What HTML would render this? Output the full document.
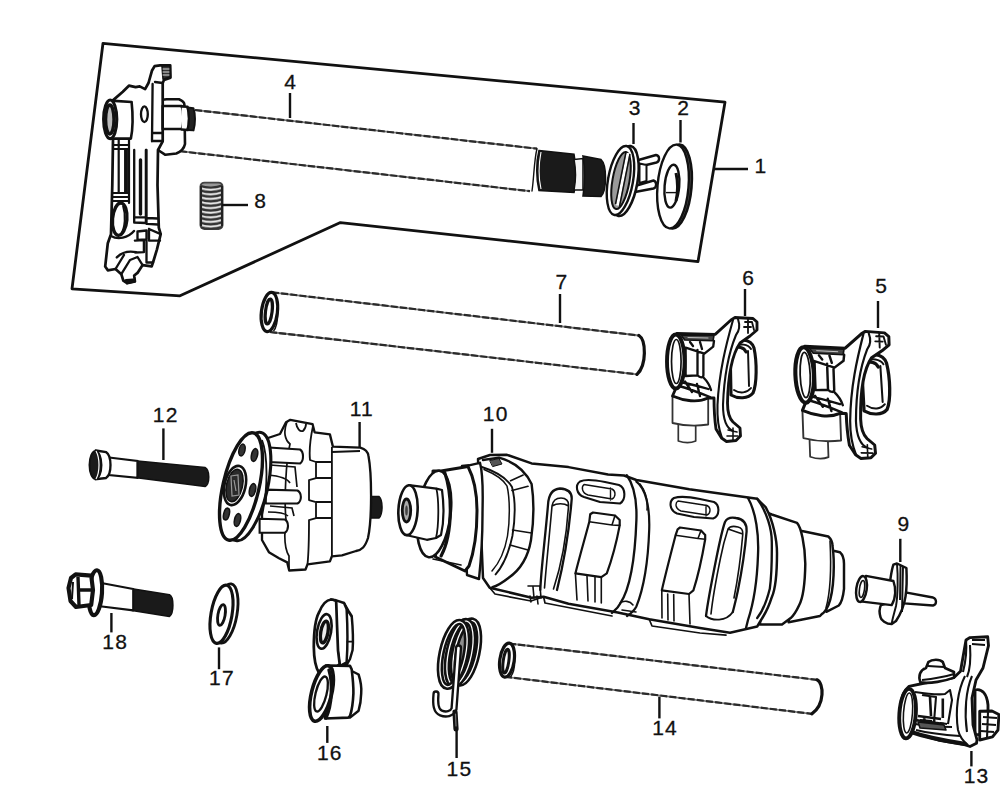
<!DOCTYPE html>
<html><head><meta charset="utf-8"><title>Gear shift parts</title>
<style>
html,body{margin:0;padding:0;background:#fff;}
body{width:1000px;height:812px;overflow:hidden;}
svg{display:block;}
text{font-family:"Liberation Sans",sans-serif;font-size:21px;letter-spacing:1.2px;fill:#111;text-anchor:middle;stroke:#111;stroke-width:0.3px;}
.o{fill:#fff;stroke:#111;stroke-linejoin:round;stroke-linecap:round;}
.l{fill:none;stroke:#111;stroke-linecap:round;stroke-linejoin:round;}
.t{fill:none;stroke:#111;stroke-linecap:round;}
.ld{fill:none;stroke:#111;stroke-width:2.4;}
.d{fill:#1a1a1a;stroke:#111;}
</style></head>
<body>
<svg width="1000" height="812" viewBox="0 0 1000 812">
<rect width="1000" height="812" fill="#fff"/>
<!-- frame box -->
<polygon points="103,43.3 725,102.2 698,261.6 340.4,222.6 180,295.8 72,288.8" fill="none" stroke="#111" stroke-width="2.8" stroke-linejoin="round"/>

<!-- ===== item 4: shaft ===== -->
<g id="shaft">
<path fill="#fff" d="M195,110 L537,148.7 L537,190.7 L180,151.2 Z"/>
<path d="M195,110 L537,148.7" fill="none" stroke="#777" stroke-width="1.8"/>
<path d="M195,110 L537,148.7" fill="none" stroke="#2a2a2a" stroke-dasharray="7 2.2" stroke-width="2.2"/>
<path d="M180,151.2 L530,191.2" fill="none" stroke="#777" stroke-width="1.8"/>
<path d="M180,151.2 L530,191.2" fill="none" stroke="#2a2a2a" stroke-dasharray="7 2.2" stroke-width="2.2"/>
<path class="l" stroke-width="1.4" d="M537,148.7 C534,160 534,178 532,191"/>
<!-- spline 1 -->
<path class="d" stroke-width="1.56" d="M539,150.5 L574,154.3 C577,170 577,182 574,192.5 L539,190.5 C536,178 536,162 539,150.5 Z"/>
<path d="M541,152 C538.5,165 538.5,178 541,189" fill="none" stroke="#fff" stroke-width="1.1"/>
<!-- collar -->
<path fill="#f4f4f4" stroke="#111" stroke-width="1.56" d="M574,159.5 L583,158.5 L583,190 L574,190 C576,180 576,170 574,159.5Z"/>
<!-- spline 2 -->
<path class="d" stroke-width="1.56" d="M583,156 L601,159.5 C607,165 607,190 601,196.5 L583,196 C585,183 585,168 583,156 Z"/>
</g>

<!-- ===== shift arm ===== -->
<g id="arm" stroke-linejoin="round" stroke-linecap="round">
<!-- back disc -->
<path fill="#fff" stroke="#111" stroke-width="2.60" d="M160,100 L166.8,99.3 L179,99.3 C183,101 184.4,103 184.4,104.7 L185,144 C184,149 180,152 176.3,153.5 L165.4,154.8 L158,150 Z"/>
<!-- silhouette -->
<path fill="#fff" stroke="#111" stroke-width="2.73" d="M112.6,100.6 L122.8,91.8 L128.9,85.7 L135.6,87.1 L139.7,86.4 L145.1,89.1 L148.5,83 L151.9,70.8 L154.6,66.1 L160,65.4 L170.2,65.4 L170.5,77.6 L164,80 L162.7,83 L162.7,141.3 L158,150 L157.5,185 L158.8,227.6 L160.7,234.1 L156.9,249.6 L153,262.5 L151.7,266.4 L142.6,265.1 L137.5,272.9 L134.2,275.5 L134.9,281.3 L127.1,283.2 L123.3,280.6 L121.3,274.2 L115.5,269 L107.8,270.3 L105.2,266.4 L107.8,243.2 L111,234.1 L112.3,185 L113,140 L112.6,138.6 Z"/>
<!-- tab hatch -->
<path fill="#333" stroke="#111" stroke-width="1.56" d="M162,66 L170,66 L170,77 L163,79 Z"/>
<path fill="none" stroke="#ddd" stroke-width="1" d="M163,69 L169,69 M163,72 L169,72 M163,75 L169,75"/>
<!-- left boss -->
<path fill="#fff" stroke="#111" stroke-width="2.60" d="M110.5,100.6 L131.6,102 C133,115 133,128 130.9,138.6 L111,138.6 Z"/>
<ellipse cx="110.2" cy="119.3" rx="6.6" ry="19.3" fill="#fff" stroke="#111" stroke-width="3.12"/>
<ellipse cx="109.8" cy="119.5" rx="4.2" ry="14.5" fill="#bbb" stroke="#111" stroke-width="3.38"/>
<!-- plate hole -->
<ellipse cx="144.4" cy="114.2" rx="3.4" ry="7.8" fill="#fff" stroke="#111" stroke-width="2.34"/>
<!-- rib -->
<path fill="none" stroke="#111" stroke-width="2.34" d="M152.6,84 L152,141.3 M155,82 L162.7,83 M152.3,133 L162.7,133 M152.3,141 L162.7,141"/>
<!-- right boss -->
<path fill="#fff" stroke="#111" stroke-width="2.60" d="M162.7,106 L181.7,106 C184,112 184,124 181.7,129 L162.7,129 Z"/>
<path fill="#fff" stroke="#111" stroke-width="2.60" d="M181.7,106.5 L187.5,106.8 C189.5,113 189.5,124 187.5,130 L181.7,129.5"/>
<path fill="#222" stroke="#111" stroke-width="1.95" d="M187.5,107.4 L193.5,108.2 C195.5,114 195.5,124 193.5,130.4 L187.5,130 C189.5,124 189.5,113 187.5,107.4 Z"/>
<!-- left rail -->
<path fill="none" stroke="#111" stroke-width="2.21" d="M129,139 L129,203 M118.7,140 L118.7,193"/>
<path fill="none" stroke="#111" stroke-width="1.95" d="M113,145 L129,145 M113,149 L129,149 M113,193 L129,193 M113,197 L129,197 M113,201 L129,201"/>
<path fill="none" stroke="#111" stroke-width="3.90" d="M126,150 L126,192"/>
<ellipse cx="119.7" cy="219.2" rx="7.2" ry="16.2" transform="rotate(5 119.7 219.2)" fill="#fff" stroke="#111" stroke-width="3.38"/>
<path fill="none" stroke="#111" stroke-width="1.82" d="M123,206 C126,215 125,228 121,234"/>
<!-- middle & right rails -->
<path fill="none" stroke="#111" stroke-width="2.34" d="M134.2,150 L134.2,222.5 M145.9,150 L145.9,222.5 M146.5,150 L146.5,223.8 M134.2,217.3 L145.9,217.3 M134.2,222.5 L145.9,223 M147,218 L157.5,218.5 M147,223.8 L157.8,224.5"/>
<path fill="none" stroke="#111" stroke-width="3.38" d="M140.5,160 L140.5,214"/>
<!-- foot details -->
<path fill="none" stroke="#111" stroke-width="2.34" d="M137.5,231.5 L146.5,230.5 L146.5,239.3 L137.5,240 Z M134.9,240.6 L143.9,240 L143.9,252.2 L134.9,252.5 M149,229 L160.7,234.1 M149,229 L149,240.6 L160,240.6 M146.5,240.6 L146.5,262.5 L153,262.5 M111,236 C118,240 128,238 134,231 M116.8,257.4 C122,252 130,251 136.2,252.2 M115.5,269 L124,255 M121.3,274.2 L130,260 L137.5,257 L142.6,265.1 M127.1,283.2 L134.9,281.3"/>
<path fill="none" stroke="#111" stroke-width="4.16" d="M126,281 L133,280.5"/>
</g>

<!-- ===== spring 8 ===== -->
<g id="spring8">
<rect x="200.5" y="182.6" width="22" height="46.5" rx="4" fill="#999" stroke="#444" stroke-width="1.95"/>
<path fill="none" stroke="#333" stroke-width="1.95" d="M201,186.0 C206,188.0 216,188.0 222,185.5 M201,190.6 C206,192.6 216,192.6 222,190.1 M201,195.2 C206,197.2 216,197.2 222,194.7 M201,199.8 C206,201.8 216,201.8 222,199.3 M201,204.4 C206,206.4 216,206.4 222,203.9 M201,209.0 C206,211.0 216,211.0 222,208.5 M201,213.6 C206,215.6 216,215.6 222,213.1 M201,218.2 C206,220.2 216,220.2 222,217.7 M201,222.8 C206,224.8 216,224.8 222,222.3 M201,227.4 C206,229.4 216,229.4 222,226.9"/>
<path fill="none" stroke="#e6e6e6" stroke-width="1.3" d="M202,188.4 C207,190.0 215,190.0 221,188.0 M202,193.0 C207,194.6 215,194.6 221,192.6 M202,197.6 C207,199.2 215,199.2 221,197.2 M202,202.2 C207,203.8 215,203.8 221,201.8 M202,206.8 C207,208.4 215,208.4 221,206.4 M202,211.4 C207,213.0 215,213.0 221,211.0 M202,216.0 C207,217.6 215,217.6 221,215.6 M202,220.6 C207,222.2 215,222.2 221,220.2 M202,225.2 C207,226.8 215,226.8 221,224.8"/>
<path fill="none" stroke="#222" stroke-width="2.08" d="M201,186 L201,226 M222,186 L222,226"/>
</g>

<!-- ===== circlip 3 ===== -->
<g id="clip3" stroke-linejoin="round">
<path fill="#fff" stroke="#111" stroke-width="2.4" d="M635,161 L656,155 C660,155.5 660,161.5 656.5,162.5 L636,167.5 Z M635,186 L653.5,180.5 C657,181.5 657,187.5 653.5,188.5 L635,192 Z"/>
<path fill="#fff" stroke="#111" stroke-width="2" d="M639.5,163.5 L646.5,165 L646.5,181 L639.5,183 Z"/>
<ellipse cx="624.5" cy="181" rx="13" ry="35.5" transform="rotate(10 624.5 181)" fill="#fff" stroke="#111" stroke-width="2.6"/>
<ellipse cx="620.5" cy="180.5" rx="12.5" ry="35" transform="rotate(10 620.5 180.5)" fill="#fff" stroke="#111" stroke-width="2.4"/>
<ellipse cx="621" cy="180.5" rx="8.5" ry="29" transform="rotate(10 621 180.5)" fill="#9a9a9a" stroke="#111" stroke-width="2"/>
<path fill="none" stroke="#fff" stroke-width="3" d="M628,153 L617.5,205.5"/>
<path fill="none" stroke="#111" stroke-width="1.5" d="M626,152 L615.5,204 M630,154 L619.5,206.5"/>
</g>

<!-- ===== washer 2 ===== -->
<g id="washer2">
<ellipse cx="676" cy="186.5" rx="15.5" ry="42" transform="rotate(5 676 186.5)" fill="#555" stroke="#111" stroke-width="2.6"/>
<ellipse cx="673" cy="186.5" rx="15.5" ry="42" transform="rotate(5 673 186.5)" fill="#fff" stroke="#111" stroke-width="2.4"/>
<ellipse cx="671.9" cy="186.2" rx="7.3" ry="21.5" transform="rotate(5 671.9 186.2)" fill="#fff" stroke="#111" stroke-width="2.4"/>
<path fill="none" stroke="#111" stroke-width="3" d="M676,173 C678,182 678,192 676,201"/>
<path fill="none" stroke="#111" stroke-width="1.4" d="M666,192.6 L677.5,192.6"/>
</g>
<!-- ===== rod 7 ===== -->
<g id="rod7">
<path fill="#fff" d="M270,292 L639,335.5 C646,340 647,365 637,374.3 L270,332 Z"/>
<path d="M272,292.3 L639,335.5" fill="none" stroke="#777" stroke-width="1.8"/>
<path d="M272,292.3 L639,335.5" fill="none" stroke="#2a2a2a" stroke-dasharray="7 2.2" stroke-width="2.2"/>
<path d="M270,332 L637,374.3" fill="none" stroke="#777" stroke-width="1.8"/>
<path d="M270,332 L637,374.3" fill="none" stroke="#2a2a2a" stroke-dasharray="7 2.2" stroke-width="2.2"/>
<path fill="none" stroke="#111" stroke-width="3.2" stroke-linecap="round" d="M639,335.5 C646,340 647,365 637,374.3"/>
<ellipse cx="269.4" cy="312" rx="8" ry="19.8" transform="rotate(7 269.4 312)" fill="#fff" stroke="#111" stroke-width="3.2"/>
<ellipse cx="268.8" cy="311.5" rx="3.3" ry="12.5" transform="rotate(7 268.8 311.5)" fill="#fff" stroke="#111" stroke-width="3.2"/>
<path fill="none" stroke="#111" stroke-width="1.5" d="M274.5,293.5 C279,300 279,325 273.5,331"/>
</g>
<!-- ===== fork 6 ===== -->
<g id="fork6" stroke-linejoin="round" stroke-linecap="round">
<!-- right ring behind arm -->
<path fill="#fff" stroke="#111" stroke-width="3.12" d="M730,344 C737,338 751,338 754,348 C757,362 757,384 753,393 C748,399 738,399 731,395 Z"/>
<path fill="none" stroke="#111" stroke-width="1.95" d="M734,347 C740,343 748,344 751,349 M734,390 C740,394 747,393 751,388 M748,351 L749,386"/>
<path fill="none" stroke="#111" stroke-width="3.12" d="M733,349 C738,346 744,347 746,352"/>
<!-- boss + pin -->
<path fill="#fff" stroke="#333" stroke-width="1.7" d="M678.3,424 L678.3,441 C684,443 691,443 695.7,441 L695.7,424 Z"/>
<path fill="#fff" stroke="#333" stroke-width="1.8" d="M672.5,396 L672.5,423 C685,426 698,426 708.2,424.5 L708.2,398 C698,403 684,401 672.5,396 Z"/>
<!-- ring body + arm silhouette -->
<path fill="#fff" stroke="#111" stroke-width="2.86" d="M677,333.5 L715.2,334.4 L731,320 L735,317.5 L753,318.5 L757,322 L757,330 L750,336 L740,343 C731,356 728,380 727.5,403 C727.5,412 729,418 733,422 L740,428 L740.5,436 L736,440.5 L726.5,441.5 L721.5,438 L716,429 C714,415 714,405 714,398 L708,398 C698,403 684,401 672.5,396 L676,388 Z"/>
<!-- ring inner structure -->
<path fill="#444" stroke="#111" stroke-width="1.56" d="M681,335 L714,335.5 L713,340.8 L684.7,340 Z"/>
<path fill="none" stroke="#ccc" stroke-width="0.9" d="M688,337.5 L708,338"/>
<path fill="none" stroke="#111" stroke-width="2.34" d="M685.6,347.7 L704.4,353.6 L713.2,346.7 L714,340.8 M685.6,347.7 L685.6,376 M697.5,350 L697.5,375.3 M703.4,353.6 L703.4,375.3 M685.6,376 L697.5,375.3 M697.5,375.3 C700,378 703,378 703.4,375.3 M690,342 L693,346 M700,342 L702,349"/>
<path fill="none" stroke="#111" stroke-width="2.34" d="M677,381.5 C686,383 698,386 708.3,389 M679,386 C690,389 700,393 710,397 M685,381.5 L692,392 M697,384 L700,396 M703,377 C707,381 710,386 711,390"/>
<!-- front ring -->
<ellipse cx="675.8" cy="361.5" rx="8.8" ry="27" fill="#fff" stroke="#111" stroke-width="3.90"/>
<ellipse cx="676.3" cy="361.5" rx="4.8" ry="22" fill="none" stroke="#111" stroke-width="1.69"/>
<!-- arm lines -->
<path fill="none" stroke="#111" stroke-width="2.08" d="M733,320 C726,345 719,372 717.5,405 C717,418 719,430 722,438 M738,319 C740,325 740,330 736,335 C729,352 724,378 723,405 C723,418 726,428 733,431"/>
<path fill="none" stroke="#111" stroke-width="1.82" d="M745,322 L752,322 L754,330 M744,327 L751,327 M748,319 L748,333"/>
<path fill="none" stroke="#111" stroke-width="1.56" d="M728,430 L737,432 M727,436 L738,436 M733,428 L733,441"/>

</g>
<!-- ===== fork 5 ===== -->
<use href="#fork6" transform="matrix(1.0537,0.0263,0.0359,1.0267,79.59,-13.92)"/>
<!-- ===== bolt 12 ===== -->
<g id="bolt12">
<path class="d" stroke-width="1.56" d="M137.4,461 L205,467.5 C210,470 210,484 205,486.5 L137.4,477.8 Z"/>
<path fill="#fff" stroke="#111" stroke-width="2.08" d="M109,457.5 L137.4,461 L137.4,477.8 L109,475 Z"/>
<path fill="#fff" stroke="#111" stroke-width="2.34" d="M96,450.5 L106,452 C112,456 112,474 106,478 L96,479.2 Z"/>
<ellipse cx="95.5" cy="465" rx="6" ry="14" fill="#1a1a1a" stroke="#111" stroke-width="1.95"/>
<path d="M96,451 C100,458 100,472 96,479" stroke="#fff" stroke-width="1.2" fill="none"/>
</g>
<!-- ===== item 11 ===== -->
<g id="item11">
<!-- right pin -->
<path class="d" stroke-width="1.56" d="M368,496.5 L379,496.5 C383,500 383,514 379,518 L368,518 Z"/>
<!-- body -->
<path fill="#fff" stroke="#111" stroke-width="2.34" stroke-linejoin="round" d="M286,422.2 L290.3,419.8 L312.6,424.2 L314.6,432.3 L329.9,434.4 L332.9,446.6 L360.3,447.6 C365,449 368,452 368.5,456 C372,475 372,520 368,538 C365,547 362,550 356,551 L342,555.3 L331.9,556.3 L329.9,561.4 L307.5,564.4 L305.5,569.5 L289.2,570.5 L287.2,562.4 L279,558.3 L268.9,552.2 L262,540 L262,440 L280,434 Z"/>
<path fill="none" stroke="#111" stroke-width="1.82" stroke-linejoin="round" d="M313,426 C310,440 309,450 310,460 L316,462 L316,478 L309,480 L309,500 L316,502 L316,518 L309,520 C309,535 309,550 307.5,564.4 M331.9,447 L331.9,556.3 M316,462 L331,462 M316,478 L331,478 M316,502 L331,502 M316,518 L331,518 M331.9,452 L360,451 M296,423 C297,429 300,432 303,431 C305,429 306,426 306,424"/>
<path fill="none" stroke="#111" stroke-width="1.69" d="M287,422 C283,432 285,440 290,444 C286,460 284,500 286,520 C284,535 284,548 289,556 L289,570"/>
<!-- pins between flange and body -->
<path fill="#fff" stroke="#111" stroke-width="2.08" d="M268.8,447.5 L300,449.5 C304,452 304,461 300,463.5 L268.8,462 Z"/>
<path fill="#fff" stroke="#111" stroke-width="2.08" d="M265.8,489.6 L297.5,490.5 C302,493 302,501 297.5,503.5 L265.8,503.5 Z"/>
<path fill="#fff" stroke="#111" stroke-width="2.08" d="M259.6,518.8 L285,519.5 C289,522 289,530 285,532.7 L259.6,532.7 Z"/>
<path fill="none" stroke="#111" stroke-width="1.69" d="M270,465 L295,467 L297,487 M270,506 L292,508 L294,516 M268,475 C280,476 287,478 290,483 M268,512 C278,512 285,513 288,516"/>
<!-- flange rim -->
<ellipse cx="248.5" cy="486.5" rx="19" ry="55.5" transform="rotate(13 248.5 486.5)" fill="#fff" stroke="#111" stroke-width="3.12"/>
<path fill="none" stroke="#111" stroke-width="1.82" d="M262,440 C268,455 268,490 262,515"/>
<!-- flange face -->
<ellipse cx="241" cy="486.5" rx="18" ry="55" transform="rotate(13 241 486.5)" fill="#fff" stroke="#111" stroke-width="3.38"/>
<!-- holes -->
<g fill="#333" stroke="#111" stroke-width="1.56">
<ellipse cx="242" cy="450" rx="3" ry="6" transform="rotate(13 242 450)"/>
<ellipse cx="254.5" cy="455" rx="3" ry="6.5" transform="rotate(13 254.5 455)"/>
<ellipse cx="252.5" cy="490" rx="3" ry="6.5" transform="rotate(13 252.5 490)"/>
<ellipse cx="237.5" cy="520" rx="3" ry="6.5" transform="rotate(13 237.5 520)"/>
<ellipse cx="226.5" cy="514" rx="2.8" ry="6" transform="rotate(13 226.5 514)"/>
</g>
<!-- hub -->
<ellipse cx="235" cy="485.5" rx="10.5" ry="20" transform="rotate(13 235 485.5)" fill="#fff" stroke="#111" stroke-width="2.60"/>
<ellipse cx="234.5" cy="485.5" rx="8" ry="16.5" transform="rotate(13 234.5 485.5)" fill="#2a2a2a" stroke="#111" stroke-width="1.56"/>
<path fill="none" stroke="#999" stroke-width="1.2" d="M231,476 L238,475 L239,495 L232,496 Z M234,480 L236,491"/>
</g>
<!-- ===== drum 10 ===== -->
<g id="drum10" stroke-linejoin="round" stroke-linecap="round">
<!-- right end cylinders (behind) -->
<path fill="#fff" stroke="#111" stroke-width="2.47" d="M824,551 L834.6,551 L839.9,552.2 C843,555 844,560 844,563.7 L844,588.8 C843,598 841,603 838.8,605.5 L826.3,611.8 Z"/>
<path fill="#fff" stroke="#111" stroke-width="2.47" d="M795,530 L803.2,531.3 L828.3,536.5 C831,539 832.5,542.8 832.5,546 C834.6,560 834.6,590 828.3,605.5 C826,610 824,613 822,613.9 L820,616 L788.6,622.3 Z"/>
<path fill="none" stroke="#111" stroke-width="1.56" d="M830,541 C831,560 831,590 826,608"/>
<path fill="#fff" stroke="#111" stroke-width="2.47" d="M765,512 L771.8,514.5 L797,522.9 C801,527 805,545 805.3,563.7 C805,585 802,600 799,605.5 C796,612 793,616 790.7,618.1 L782,624.4 L760,624.4 Z"/>
<!-- main body -->
<path fill="#fff" stroke="#111" stroke-width="2.47" d="M478,459 L490,455 L507,454.8 L531.6,463.4 L568.5,467.1 L608,474.5 L624,475.5 L636.4,480 L689.3,489.3 L757.2,498.8 L761.4,503 L765.6,507.2 C773,520 777,540 777,553.2 C777,575 775,590 771.8,597.2 C769,606 766,612 763.5,616 L757.2,626.5 L730,632.7 L700,628 L649.2,619.2 L617.8,612.5 L568.5,603.8 L543.6,596.8 L531.6,597.7 L489.7,587.8 L483,578 Z"/>
<path fill="none" stroke="#111" stroke-width="2.34" d="M757.2,498.8 C767,512 772,530 771.8,542.8 C772,565 771,580 769.8,588.8 C767,600 762,612 757.2,618"/>
<!-- ring 1 (left, D shape) -->
<path fill="none" stroke="#111" stroke-width="2.4" d="M483,460 L499,457.6 C515,462 526,472 531.6,484 C534,500 534,520 531,540 C528,558 520,570 508.4,578 C502,583 497,586 492.4,587.2"/>
<path fill="none" stroke="#111" stroke-width="1.9" d="M479,466 C495,471 507,478 512,487 C515.5,500 515,520 512.4,536 C509,552 503,566 495.6,574.4"/>
<path fill="none" stroke="#111" stroke-width="1.5" d="M484,469.5 C495,474 503,479 507,486 C510,498 510,520 507.5,536 C505,550 500,562 492,571"/>
<path fill="none" stroke="#111" stroke-width="1.6" d="M510.6,480.7 L523.2,475 M512,490.5 L528,486.3 M512.5,530 L531.5,533 M510,545 L528,550"/>
<path fill="#555" stroke="#111" stroke-width="1" d="M490,460.5 L499,458.5 L502,464 L493,466.5 Z"/>
<!-- groove 1 U -->
<path fill="none" stroke="#111" stroke-width="2.3" d="M540.3,590 C541,570 545,540 548,505 C548.5,495 552,489 560,488.5 C568,489 572,493 571.7,499 C570,520 567,550 557,590"/>
<path fill="none" stroke="#111" stroke-width="1.6" d="M544.5,588 C546,568 549,540 552,506 C553,500 556,498 561,498 C566,498 569,501 568.5,506 C567,530 563,560 553.5,589 M552,506 C557,503 564,503 568.5,506"/>
<path fill="none" stroke="#111" stroke-width="1.6" d="M528,586 L540,586 L541,598 M533,587 L534,598"/>
<!-- slot 1 -->
<path fill="none" stroke="#111" stroke-width="2.1" d="M580,481.5 C585,479 595,480 605,482 L619,485 C626,488 626,500 620,503.5 L600,502 L584,497 C576,494 575,485 580,481.5 Z"/>
<path fill="none" stroke="#111" stroke-width="1.4" d="M584,484.5 L612,489 C616,491 616,497 612,499 L588,495 C582,493 581,487 584,484.5 Z M610.5,488 L610.5,500"/>
<!-- cam block 1 -->
<path fill="#fff" stroke="#111" stroke-width="2.2" d="M590.2,514.3 L593,512.5 L615,515.5 L619.7,520 L619.7,525.4 C616,545 611,562 606.8,573.4 L601.3,577.1 L575.4,573.4 C580,555 585,538 589.3,521.7 Z"/>
<path fill="none" stroke="#111" stroke-width="1.6" d="M589.3,521.7 L612,525 L619.7,525.4 M612,525 L615,515.5 M575.4,573.4 L577,600 M601.3,577.1 L601.3,603 M587,576 L588,601 M595,577 L595,602"/>
<!-- ring 2 -->
<path fill="none" stroke="#111" stroke-width="2.34" d="M626.8,475.2 C634,485 637,500 636.4,520 C635,560 629,590 620.4,603.2 C618,608 614,611 612,613"/>
<path fill="none" stroke="#111" stroke-width="2.21" d="M636.4,481.6 C645,488 650,505 649.2,529.6 C648,565 643,590 636.4,606.4 C634,611 630,614 627,616"/>
<path fill="none" stroke="#111" stroke-width="1.56" d="M640,484 C646,492 648,500 647,510"/>
<path fill="none" stroke="#111" stroke-width="1.56" d="M620,603 C624,600 630,601 633,605 M622,610 L636,612"/>
<!-- slot 2 -->
<path fill="none" stroke="#111" stroke-width="2.1" d="M674,498 C680,496 690,497 700,499 L714,502 C720,505 720,516 713.1,518.5 L694,517 L677,513.5 C669,510 669,501 674,498 Z"/>
<path fill="none" stroke="#111" stroke-width="1.4" d="M678,501 L707,505.5 C711,507.5 711,513 707,515 L681,511 C675,509 675,503 678,501 Z M706,505 L706,516"/>
<!-- cam block 2 -->
<path fill="#fff" stroke="#111" stroke-width="2.2" d="M677.6,529.3 L680,527.5 L701,530.5 L705.2,535 L705.2,539.2 C702,558 698,576 693.4,590.4 L689,594 L661.8,590.4 C666,572 671,553 675.6,535.2 Z"/>
<path fill="none" stroke="#111" stroke-width="1.6" d="M675.6,535.2 L698,538.5 L705.2,539.2 M698,538.5 L701,530.5 M661.8,590.4 L662,618 M689,594 L690,624 M667.7,594 L668,620 M673.7,594.5 L674,621"/>
<!-- groove 2 U -->
<path fill="none" stroke="#111" stroke-width="2.3" d="M706,616 C708,600 712,580 716,560 C719,545 722,530 725,522 C727,518 731,517 736,518 C743,519 747,523 746.6,531.3 C745,550 742,570 738,590 C736,600 734,607 732.8,612"/>
<path fill="none" stroke="#111" stroke-width="1.6" d="M711,614 C713,595 717,575 720.5,558 C723,545 726,535 728,529 C730,526 734,526 738,527 C742,528 743,531 742.8,534 C741,555 738,578 734,598 M728,529 C733,531 738,532 742.8,534"/>
<path fill="none" stroke="#111" stroke-width="1.8" d="M706,616 C712,621 726,622 732.8,612"/>
<!-- ring 3 (right) -->
<path fill="none" stroke="#111" stroke-width="2.34" d="M748,498 C756,512 759,535 758,555 C757,585 753,605 748,620 L746,628"/>
<!-- bottom details -->
<path fill="none" stroke="#111" stroke-width="1.69" d="M489.7,587.8 L495,594 L531,601 L543.6,596.8 M543.6,596.8 L545,603 L612,616 M649.2,619.2 L652,626 L700,633 L726,635.2"/>
<path fill="none" stroke="#111" stroke-width="1.56" d="M530,596 L531,602 M537,596 L538,604"/>
<!-- left end: flange ring -->
<path fill="#fff" stroke="#111" stroke-width="2.4" d="M462,466 L469,465.3 L480,462.8 C484,478 482.5,500 482.5,515 C482.5,540 481,560 479,579 L467,575 Z"/>

<!-- second cylinder -->
<path fill="#fff" stroke="#111" stroke-width="3" d="M433,470.9 L441,470.9 L468,466.5 C474,478 477,495 477,511 C477,532 474,552 469,566 L465,571 L435.5,557 Z"/>
<path fill="none" stroke="#111" stroke-width="1.6" d="M433,559 L461,565"/>
<ellipse cx="434" cy="514" rx="16.5" ry="43.5" transform="rotate(7 434 514)" fill="#fff" stroke="#111" stroke-width="2.6"/>
<path fill="none" stroke="#111" stroke-width="3.2" d="M444.8,472.7 C449,485 450.5,500 450.3,512 C450,530 447,545 441.1,555.9"/>
<!-- small end cylinder -->
<path fill="#fff" stroke="#111" stroke-width="2.2" d="M409,485.2 L436.4,488.6 L442,490 C444,505 444,522 441,535 L436,538 L426.8,539.8 L407,535.3 Z"/>
<path fill="none" stroke="#111" stroke-width="1.8" d="M436.4,488.6 C439,500 439,525 436,538"/>
<ellipse cx="408" cy="510.2" rx="9.6" ry="25" transform="rotate(3 408 510.2)" fill="#fff" stroke="#111" stroke-width="2.6"/>
<ellipse cx="406.5" cy="510.5" rx="4.2" ry="11.5" fill="#aaa" stroke="#111" stroke-width="2.8"/>
<ellipse cx="406.5" cy="510.5" rx="1.3" ry="5" fill="#444"/>
</g>
<!-- ===== item 9 ===== -->
<g id="item9" stroke-linejoin="round">
<path fill="#fff" stroke="#111" stroke-width="2.34" d="M904,592.2 L933,597.5 C937,599 937,604.5 933,605.5 L904,603.4 Z"/>
<path fill="#fff" stroke="#111" stroke-width="2.47" d="M893.4,564.7 L897,563.5 L906.4,568 C907,580 906.5,590 905.5,596.6 C904,606 900,615 896,621 L891.7,624.1 C886,624 881,620 880.5,617.2 C879,612 879.5,608 881,605 L888,603 C889,590 890,575 893.4,564.7 Z"/>
<path fill="none" stroke="#111" stroke-width="1.95" d="M897,564 C898,575 898,595 896,606 C894,614 892,620 891.7,624.1 M900.5,566 L900,600 M903,567 L902,612"/>
<path fill="#fff" stroke="#111" stroke-width="2.34" d="M865.9,575.9 L893.4,581 C896,588 896,598 891.7,605.2 L862.4,601.7 Z"/>
<ellipse cx="861.5" cy="589" rx="5.2" ry="13" transform="rotate(8 861.5 589)" fill="#fff" stroke="#111" stroke-width="2.47"/>
<ellipse cx="862" cy="589" rx="2.5" ry="8.5" transform="rotate(8 862 589)" fill="none" stroke="#111" stroke-width="1.56"/>
</g>
<!-- ===== bolt 18 ===== -->
<g id="bolt18" stroke-linejoin="round">
<path class="d" stroke-width="1.56" d="M132,588.8 L169.5,594.8 C174,597 174,613 169.5,616.4 L132,610.4 Z"/>
<path fill="#fff" stroke="#111" stroke-width="2.08" d="M100,582.8 L133.2,589 L133.2,610.4 L100,606.2 Z"/>
<ellipse cx="95.4" cy="592.7" rx="6.6" ry="22.5" transform="rotate(4 95.4 592.7)" fill="#fff" stroke="#111" stroke-width="4.16"/>
<path fill="#fff" stroke="#111" stroke-width="4.16" d="M75.6,574.4 L91.2,575.6 L93,590 L91.2,605 L76,607 L70.5,601 L68.5,588 L71,578 Z"/>
<path fill="none" stroke="#111" stroke-width="3.38" d="M78,577 L79,605 M79,590 L92,590"/>
<path fill="none" stroke="#111" stroke-width="1.95" d="M73,582 L72,599"/>
</g>
<!-- ===== washer 17 ===== -->
<g id="washer17">
<ellipse cx="226" cy="613.5" rx="11" ry="30" transform="rotate(10 226 613.5)" fill="#fff" stroke="#111" stroke-width="2.86"/>
<ellipse cx="221.5" cy="614.3" rx="10.5" ry="29.5" transform="rotate(10 221.5 614.3)" fill="#fff" stroke="#111" stroke-width="3.12"/>
<ellipse cx="221.5" cy="615" rx="3.6" ry="10.5" transform="rotate(10 221.5 615)" fill="#fff" stroke="#111" stroke-width="2.86"/>
</g>
<!-- ===== item 16 ===== -->
<g id="item16" stroke-linejoin="round" stroke-linecap="round">
<!-- plate back bands -->
<path fill="#fff" stroke="#111" stroke-width="2.47" d="M344,603 L348.3,610.7 L351.7,615.9 C353,630 353,645 352.6,650 L350,659 L346.6,665 L340,666 Z"/>
<path fill="#fff" stroke="#111" stroke-width="2.47" d="M331,599.5 L336.2,600.3 L344,603 L346.6,609 C347.5,625 347.5,650 346.6,662.4 L339.7,666 Z"/>
<path fill="none" stroke="#111" stroke-width="1.82" d="M346.6,609 L351,616 M347.4,641.7 L352.6,641.7"/>
<!-- plate front -->
<path fill="#fff" stroke="#111" stroke-width="2.73" d="M331,599.5 C334,600 336,601 336.2,602 L337,624.5 L338,650.3 L339.7,664.1 L330,673 L319,672.8 C316,668 314,662 313.8,646.9 C313.8,635 315,620 319,612.4 C322,605 326,600 331,599.5 Z"/>
<ellipse cx="324.1" cy="631.4" rx="7" ry="17.5" transform="rotate(10 324.1 631.4)" fill="#fff" stroke="#111" stroke-width="2.60"/>
<ellipse cx="324.4" cy="632" rx="3.6" ry="11" transform="rotate(10 324.4 632)" fill="#eee" stroke="#111" stroke-width="3.38"/>
<!-- roller outer flange -->
<path fill="#fff" stroke="#111" stroke-width="2.47" d="M348,671 L351.7,671 L358.6,674.5 C361,682 361.5,690 361.2,693.4 C361,700 360,706 358.6,710.7 L350,717.6 Z"/>
<!-- roller body -->
<path fill="#fff" stroke="#111" stroke-width="2.60" d="M325.9,665.5 L350,665.9 L351.7,669.3 C353,680 353.5,688 353.4,693.4 C353,703 352,710 350,715.9 L348.3,717.6 L325,718.5 Z"/>
<!-- roller face -->
<ellipse cx="321.5" cy="693.5" rx="10" ry="28.5" transform="rotate(14 321.5 693.5)" fill="#fff" stroke="#111" stroke-width="3.64"/>
<ellipse cx="321" cy="694" rx="5.5" ry="18" transform="rotate(14 321 694)" fill="#fff" stroke="#111" stroke-width="2.34"/>
<path fill="none" stroke="#111" stroke-width="3.38" d="M329,670 C333,683 332,705 326,718"/>
</g>
<!-- ===== spring 15 ===== -->
<g id="spring15" fill="none" stroke-linecap="round">
<ellipse cx="459" cy="653" rx="9" ry="28" transform="rotate(12 459 653)" fill="#8c8c8c" stroke="none"/>
<ellipse cx="466" cy="652" rx="11.5" ry="32" transform="rotate(12 466 652)" stroke="#111" stroke-width="6.50"/>
<ellipse cx="466" cy="652" rx="11.5" ry="32" transform="rotate(12 466 652)" stroke="#fff" stroke-width="1.3"/>
<ellipse cx="460" cy="653" rx="11.5" ry="32.5" transform="rotate(12 460 653)" stroke="#111" stroke-width="6.50"/>
<ellipse cx="460" cy="653" rx="11.5" ry="32.5" transform="rotate(12 460 653)" stroke="#fff" stroke-width="1.3"/>
<ellipse cx="453.5" cy="654.4" rx="12" ry="33" transform="rotate(12 453.5 654.4)" stroke="#111" stroke-width="6.50"/>
<ellipse cx="453.5" cy="654.4" rx="12" ry="33" transform="rotate(12 453.5 654.4)" stroke="#fff" stroke-width="1.3"/>
<path stroke="#111" stroke-width="7.28" d="M458.5,648 L454,709 C452,714 446,715 441,713 C436,711 435,705 436,694"/>
<path stroke="#fff" stroke-width="2.6" d="M458.5,648 L454,709 C452,714 446,715 441,713 C436,711 435,705 436,694"/>
<path stroke="#111" stroke-width="5.20" d="M455,712 L456,729"/>
<path stroke="#777" stroke-width="1.2" d="M455.5,714 L456,726"/>
</g>
<!-- ===== rod 14 ===== -->
<g id="rod14">
<path fill="#fff" d="M508,643.3 L817,679.8 C824,683 825,705 811.8,713.8 L504,677.7 Z"/>
<path d="M509,643.5 L817,679.8" fill="none" stroke="#777" stroke-width="1.8"/>
<path d="M509,643.5 L817,679.8" fill="none" stroke="#2a2a2a" stroke-dasharray="7 2.2" stroke-width="2.2"/>
<path d="M505,676.8 L811.8,713.8" fill="none" stroke="#777" stroke-width="1.8"/>
<path d="M505,676.8 L811.8,713.8" fill="none" stroke="#2a2a2a" stroke-dasharray="7 2.2" stroke-width="2.2"/>
<path fill="none" stroke="#111" stroke-width="3.2" stroke-linecap="round" d="M817,679.8 C824,683 825,705 811.8,713.8"/>
<ellipse cx="507" cy="660.1" rx="7.2" ry="17.2" transform="rotate(8 507 660.1)" fill="#fff" stroke="#111" stroke-width="3.2"/>
<ellipse cx="506" cy="661.2" rx="2.8" ry="12" transform="rotate(8 506 661.2)" fill="#fff" stroke="#111" stroke-width="3"/>
<path fill="none" stroke="#111" stroke-width="1.5" d="M511.5,644.5 C516,652 516,670 510.5,677"/>
</g>
<!-- ===== fork 13 ===== -->
<g id="fork13" stroke-linejoin="round">
<!-- right ring behind -->
<path fill="#fff" stroke="#111" stroke-width="2.86" d="M975,690 C982,688 987,694 988,705 L988,725 C986,733 980,736 975,734 Z"/>
<!-- teeth -->
<path fill="#fff" stroke="#111" stroke-width="2.86" d="M979.7,711.3 L992,711 L998.9,714.5 L998,730 L992.5,736.9 L979.7,740 Z"/>
<path fill="none" stroke="#111" stroke-width="2.08" d="M983,717 L997,718 M982,724 L996,725 M981,731 L994,732 M988,712 L987,738"/>
<!-- body -->
<path fill="#fff" stroke="#111" stroke-width="2.86" d="M909,686.4 L925,683 L954,677.6 L960.5,671.2 L966,640 L970,637.6 L987.7,636.8 L988.5,645.6 L983,668 L976,680 L972,698 L973,725 L977,740 L976.5,743.3 L970,746.5 L965.3,744.9 L938,740 L906,730.5 C898,720 898,695 909,686.4 Z"/>
<path fill="none" stroke="#111" stroke-width="2.08" d="M966,640 C967,650 966,660 963,672 M972,640 L985,640 M972,644 L985,645 M970,645 C971,660 970,670 967,677 M965,676 C958,690 955,710 958,730 C960,738 964,742 968,745 M972,676 C966,690 964,712 967,732"/>
<!-- top boss -->
<path fill="#fff" stroke="#111" stroke-width="2.60" d="M920.4,682.4 C918,676 920,670 926,668 L928.4,662 C932,659 940,659 942.8,662 L945,668 L954,672 L954,677.6 C945,681 930,684 920.4,682.4 Z"/>
<path fill="none" stroke="#111" stroke-width="1.95" d="M928,666 L944,667 M922,680 C932,679 944,677 954,674"/>
<!-- inner lines -->
<path fill="none" stroke="#111" stroke-width="2.08" d="M915,692 C928,694 938,695 945,694 L950,690 L952,700 L948,724 M922,695 L936,697 L934,722 M915,724 C925,726 940,727 952,727 M916,730 C928,733 945,735 960,736 M920,720 L932,721 M940,723 L947,724"/>
<path fill="none" stroke="#111" stroke-width="4.16" d="M908,731 C925,737 945,741 966,744"/>
<path fill="none" stroke="#111" stroke-width="2.60" d="M915,720 L944,724 M918,716 L941,719 M942.8,698.5 L942.8,718 M930,697 L931,716 M924,718 L926,726 M934,720 L935,728"/>
<path fill="#555" stroke="#111" stroke-width="1.56" d="M918,722 L944,725 L946,730 L920,728 Z"/>
<!-- front ring face -->
<ellipse cx="907.6" cy="713.6" rx="8.2" ry="24.8" transform="rotate(4 907.6 713.6)" fill="#fff" stroke="#111" stroke-width="3.90"/>
<ellipse cx="908" cy="713" rx="4.5" ry="20" transform="rotate(4 908 713)" fill="none" stroke="#111" stroke-width="1.56"/>
</g>
<!-- leaders -->
<g class="ld">
<line x1="714" y1="169" x2="748" y2="169"/>
<line x1="290" y1="93" x2="290" y2="118"/>
<line x1="633.5" y1="123" x2="633.5" y2="144"/>
<line x1="680.5" y1="120" x2="680.5" y2="142.5"/>
<line x1="222" y1="205" x2="248" y2="205"/>
<line x1="560" y1="294" x2="560" y2="323"/>
<line x1="745" y1="289" x2="745" y2="316"/>
<line x1="878" y1="301" x2="878" y2="328"/>
<line x1="163.4" y1="428.4" x2="163.4" y2="460"/>
<line x1="359.6" y1="422" x2="359.6" y2="447.6"/>
<line x1="492" y1="428.8" x2="492" y2="452.8"/>
<line x1="900.3" y1="538.8" x2="900.3" y2="562"/>
<line x1="111.4" y1="613" x2="111.4" y2="632.4"/>
<line x1="219" y1="647.4" x2="219" y2="669.2"/>
<line x1="327.3" y1="726" x2="327.3" y2="742.9"/>
<line x1="456.6" y1="731" x2="456.6" y2="758"/>
<line x1="659.4" y1="696.6" x2="659.4" y2="718.4"/>
<line x1="971.4" y1="751" x2="971.4" y2="766.4"/>
</g>

<!-- labels -->
<g>
<text x="760.9" y="172.8">1</text>
<text x="683.6" y="114.6">2</text>
<text x="635.1" y="114.6">3</text>
<text x="290.6" y="89.0">4</text>
<text x="881.6" y="293.4">5</text>
<text x="748.6" y="285.0">6</text>
<text x="561.9" y="288.6">7</text>
<text x="260.6" y="208.0">8</text>
<text x="903.9" y="531.0">9</text>
<text x="495.7" y="421.0">10</text>
<text x="361.8" y="416.0">11</text>
<text x="165.7" y="421.9">12</text>
<text x="976.6" y="783.0">13</text>
<text x="665.1" y="735.2">14</text>
<text x="459.5" y="775.6">15</text>
<text x="329.8" y="759.7">16</text>
<text x="221.9" y="684.7">17</text>
<text x="115.2" y="649.0">18</text>
</g>
</svg>
</body></html>
